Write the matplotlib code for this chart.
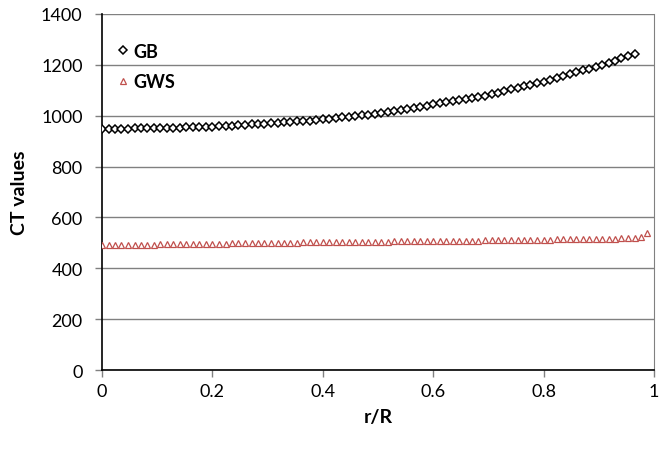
import matplotlib
matplotlib.use("Agg")
import matplotlib.pyplot as plt
from matplotlib.ticker import FuncFormatter

r_R = [0.000, 0.012, 0.024, 0.035, 0.047, 0.059, 0.071, 0.082, 0.094, 0.106,
       0.118, 0.129, 0.141, 0.153, 0.165, 0.176, 0.188, 0.200, 0.212, 0.224,
       0.235, 0.247, 0.259, 0.271, 0.282, 0.294, 0.306, 0.318, 0.329, 0.341,
       0.353, 0.365, 0.376, 0.388, 0.400, 0.412, 0.424, 0.435, 0.447, 0.459,
       0.471, 0.482, 0.494, 0.506, 0.518, 0.529, 0.541, 0.553, 0.565, 0.576,
       0.588, 0.600, 0.612, 0.624, 0.635, 0.647, 0.659, 0.671, 0.682, 0.694,
       0.706, 0.718, 0.729, 0.741, 0.753, 0.765, 0.776, 0.788, 0.800, 0.812,
       0.824, 0.835, 0.847, 0.859, 0.871, 0.882, 0.894, 0.906, 0.918, 0.929,
       0.941, 0.953, 0.965, 0.976, 0.988]

gb = [948, 948, 948, 949, 949, 950, 950, 950, 951, 951,
      952, 952, 953, 954, 955, 955, 956, 957, 958, 960,
      961, 963, 964, 966, 967, 969, 971, 972, 974, 976,
      978, 979, 981, 983, 985, 988, 990, 993, 996, 998,
      1001, 1004, 1007, 1010, 1014, 1018, 1022, 1027, 1031, 1035,
      1039, 1044, 1048, 1053, 1057, 1061, 1066, 1070, 1075, 1079,
      1085, 1091, 1097, 1103, 1109, 1115, 1121, 1127, 1133, 1140,
      1148, 1155, 1163, 1170, 1178, 1185, 1193, 1200, 1208, 1216,
      1225, 1233, 1242]

gws = [490, 490, 491, 491, 492, 492, 492, 493, 493, 494,
       494, 494, 495, 495, 496, 496, 496, 497, 497, 497,
       498, 498, 498, 499, 499, 500, 500, 500, 501, 501,
       501, 502, 502, 502, 503, 503, 503, 503, 504, 504,
       504, 505, 505, 505, 505, 506, 506, 506, 507, 507,
       507, 507, 508, 508, 508, 508, 509, 509, 509, 510,
       510, 510, 511, 511, 511, 512, 512, 512, 513, 513,
       514, 514, 514, 515, 515, 516, 516, 516, 517, 517,
       518, 518, 519, 525, 540]

x_ticks = [0, 0.2, 0.4, 0.6, 0.8, 1]
y_ticks = [0, 200, 400, 600, 800, 1000, 1200, 1400]

plt.rcParams['font.family'] = ['Lato', 'DejaVu Sans']

fig = plt.figure(figsize=(6.6, 4.52), dpi=100)
ax = fig.add_axes([0.1545, 0.179, 0.8365, 0.788])

ax.plot(r_R[:len(gb)], gb, linestyle='none', marker='D', markersize=4.2,
        markerfacecolor='white', markeredgecolor='black', markeredgewidth=1.1,
        label='GB', zorder=3)
ax.plot(r_R[:len(gws)], gws, linestyle='none', marker='^', markersize=5,
        markerfacecolor='white', markeredgecolor='#C0504D', markeredgewidth=0.9,
        label='GWS', zorder=3)

ax.set_xlim(0, 1)
ax.set_ylim(0, 1400)
ax.set_xticks(x_ticks)
ax.set_yticks(y_ticks)
ax.xaxis.set_major_formatter(FuncFormatter(lambda v, p: ('%g' % v)))
ax.yaxis.grid(True, color='#808080', linewidth=1.0)
ax.set_axisbelow(True)

ax.spines['top'].set_visible(False)
ax.spines['right'].set_color('#808080')
ax.spines['left'].set_color('black')
ax.spines['bottom'].set_color('black')
ax.spines['left'].set_linewidth(1.2)
ax.spines['bottom'].set_linewidth(1.2)

ax.tick_params(axis='both', direction='out', length=5, width=1, colors='black',
               labelsize=13)
ax.tick_params(axis='y', color='#808080', pad=9)
ax.tick_params(axis='x', color='#808080', pad=4)

ax.set_xlabel('r/R', fontsize=14, fontweight='bold', labelpad=7)
ax.set_ylabel('CT values', fontsize=14, fontweight='bold', labelpad=9)

leg = ax.legend(loc='upper left', frameon=False,
                prop={'weight': 'bold', 'size': 13}, handletextpad=0.1,
                handlelength=1.0, borderaxespad=0.0, labelspacing=0.75,
                bbox_to_anchor=(0.008, 0.94))

fig.savefig('out.png', dpi=100)
